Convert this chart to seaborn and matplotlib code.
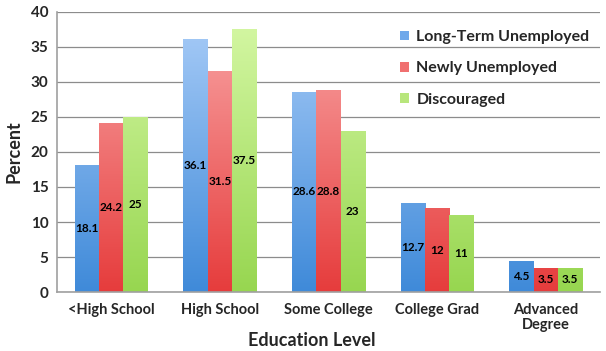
import numpy as np
import pandas as pd
import matplotlib
matplotlib.use("Agg")
import matplotlib.pyplot as plt
import seaborn as sns
from matplotlib.colors import LinearSegmentedColormap
from matplotlib.patches import Patch

categories = ["<High School", "High School", "Some College", "College Grad", "Advanced\nDegree"]
series = ["Long-Term Unemployed", "Newly Unemployed", "Discouraged"]
long_term = [18.1, 36.1, 28.6, 12.7, 4.5]
newly = [24.2, 31.5, 28.8, 12, 3.5]
discouraged = [25, 37.5, 23, 11, 3.5]
labels_txt = [["18.1", "36.1", "28.6", "12.7", "4.5"],
              ["24.2", "31.5", "28.8", "12", "3.5"],
              ["25", "37.5", "23", "11", "3.5"]]

sns.set_style("white")
plt.rcParams['font.family'] = ['Lato', 'DejaVu Sans']

df = pd.DataFrame({
    "cat": categories * 3,
    "series": sum([[s] * 5 for s in series], []),
    "val": long_term + newly + discouraged,
})

grads = {
    "Long-Term Unemployed": ("#aacdf8", "#3f8ad9"),
    "Newly Unemployed": ("#f9a7a7", "#e63c3c"),
    "Discouraged": ("#d6f8a6", "#97d650"),
}
mid = {"Long-Term Unemployed": "#6fa8ea", "Newly Unemployed": "#f07070", "Discouraged": "#b8e67c"}

fig = plt.figure(figsize=(6.06, 3.51), dpi=100)
ax = fig.add_axes([0.094, 0.168, 0.896, 0.798])
sns.barplot(data=df, x="cat", y="val", hue="series", order=categories, hue_order=series,
            palette=mid, width=0.67, ax=ax, legend=False, saturation=1)

ax.set_ylim(0, 40)
ax.set_yticks(range(0, 41, 5))
ax.set_xlim(-0.5, 4.5)
ax.yaxis.grid(True, color="#8c8c8c", linewidth=0.9)
ax.set_axisbelow(True)
for s in ["top", "right"]:
    ax.spines[s].set_visible(False)
ax.spines["left"].set_color("#a0a0a0")
ax.spines["bottom"].set_color("#a0a0a0")
ax.spines["left"].set_linewidth(1.2)
ax.spines["bottom"].set_linewidth(1.2)

# gradient fill
for cont, s in zip(ax.containers, series):
    top, bot = grads[s]
    cmap = LinearSegmentedColormap.from_list(s, [bot, top])
    for p in cont.patches:
        x0 = p.get_x()
        w = p.get_width()
        grad = np.linspace(0, 1, 256).reshape(-1, 1)
        im = ax.imshow(grad, cmap=cmap, origin="lower", aspect="auto",
                       extent=[x0, x0 + w, 0, 40], zorder=2)
        im.set_clip_path(p)
        p.set_facecolor("none")
        p.set_edgecolor("none")
ax.set_xlim(-0.5, 4.5)
ax.set_ylim(0, 40)

for cont, lt in zip(ax.containers, labels_txt):
    for p, t in zip(cont.patches, lt):
        ax.text(p.get_x() + p.get_width() / 2, p.get_height() / 2, t, ha="center", va="center",
                fontsize=8.5, fontweight="bold", color="black", zorder=3)

ax.set_xticks(range(5))
ax.set_xticklabels(categories, fontsize=10.5, fontweight="bold", linespacing=1.1)
ax.tick_params(axis="x", length=0, pad=8)
ax.set_xticks([0.5, 1.5, 2.5, 3.5], minor=True)
ax.tick_params(axis="x", which="minor", length=6, color="#a0a0a0", width=1.2, direction="out")
for lab in ax.get_yticklabels():
    lab.set_fontweight("bold")
ax.tick_params(axis="y", labelsize=11, length=0, pad=6)
ax.set_xlabel("Education Level", fontsize=13, fontweight="bold", va="center")
ax.xaxis.set_label_coords(0.47, -0.172)
ax.set_ylabel("Percent", fontsize=13, fontweight="bold", labelpad=6)

handles = [Patch(facecolor=mid[s], edgecolor="none") for s in series]
fig.legend(handles, series, loc="upper left", bbox_to_anchor=(0.637, 0.955), frameon=False,
           prop={"weight": "bold", "size": 11.5}, handlelength=0.55, handleheight=0.55,
           handletextpad=0.45, labelspacing=1.08)

fig.savefig("out.png", dpi=100)
